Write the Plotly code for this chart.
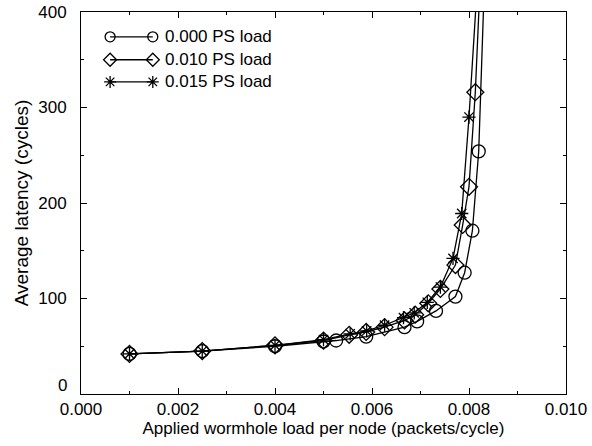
import plotly.graph_objects as go

# Data
load_000_x = [0.001, 0.0025, 0.004, 0.005, 0.00526, 0.00588, 0.00667, 0.00693, 0.00732, 0.00772, 0.00791, 0.00807, 0.0082, 0.00831]
load_000_y = [42, 45, 50, 55, 56, 60, 70, 76, 87, 102, 127, 171, 254, 420]

load_010_x = [0.001, 0.0025, 0.004, 0.005, 0.00553, 0.00588, 0.00626, 0.00667, 0.00689, 0.00716, 0.00741, 0.00772, 0.00787, 0.0080, 0.00813, 0.00822]
load_010_y = [42, 45, 51, 56, 62, 65, 70, 77, 83, 95, 110, 135, 177, 217, 316, 420]

load_015_x = [0.001, 0.0025, 0.004, 0.005, 0.00555, 0.00589, 0.00626, 0.00665, 0.00687, 0.00714, 0.00741, 0.00767, 0.00785, 0.0080, 0.00816]
load_015_y = [42, 45, 51, 57, 63, 66, 72, 80, 85, 96, 112, 142, 189, 290, 420]

series_names = ["0.000 PS load", "0.010 PS load", "0.015 PS load"]
series_x = [load_000_x, load_010_x, load_015_x]
series_y = [load_000_y, load_010_y, load_015_y]

x_tick_vals = [0.000, 0.002, 0.004, 0.006, 0.008, 0.010]
x_tick_text = ["0.000", "0.002", "0.004", "0.006", "0.008", "0.010"]
y_tick_vals = [0, 100, 200, 300, 400]
y_tick_text = ["", "100", "200", "300", "400"]

font = "Liberation Sans, Arial, Helvetica, sans-serif"
symbols = ["circle-open", "diamond-open", "asterisk-open"]
sizes = [13, 13, 11]
legend_sizes = [10, 10, 10]

fig = go.Figure()
for i in range(3):
    fig.add_trace(go.Scatter(
        x=series_x[i], y=series_y[i], mode="lines+markers", name=series_names[i],
        line=dict(color="black", width=1.3),
        marker=dict(symbol=symbols[i], size=sizes[i], color="black", line=dict(width=1.3)),
        showlegend=False))

# Custom legend (marker at both ends of the line sample), drawn on a fixed 0..1 overlay axis
leg_x0, leg_x1, leg_text_x = 0.060, 0.148, 0.170
leg_rows = [0.935, 0.875, 0.817]
for i in range(3):
    fig.add_trace(go.Scatter(
        x=[leg_x0, leg_x1], y=[leg_rows[i], leg_rows[i]], xaxis="x2", yaxis="y2",
        mode="lines+markers", line=dict(color="black", width=1.3),
        marker=dict(symbol=symbols[i], size=legend_sizes[i], color="black", line=dict(width=1.3)),
        showlegend=False, hoverinfo="skip"))
    fig.add_annotation(x=leg_text_x, y=leg_rows[i], xref="x2", yref="y2", text=series_names[i],
                       showarrow=False, xanchor="left", yanchor="middle", font=dict(size=17))

# Y "0" label sits slightly above the axis, as in the reference
fig.add_annotation(x=0, y=0, xref="paper", yref="y", text="0", showarrow=False,
                   xanchor="right", yanchor="middle", xshift=-12, yshift=9, font=dict(size=17))

fig.update_layout(
    width=592, height=446,
    margin=dict(l=81, r=26, t=12, b=52),
    paper_bgcolor="white", plot_bgcolor="white",
    font=dict(family=font, size=17, color="black"),
    showlegend=False,
    xaxis2=dict(overlaying="x", range=[0, 1], visible=False, fixedrange=True),
    yaxis2=dict(overlaying="y", range=[0, 1], visible=False, fixedrange=True),
)
fig.update_layout(xaxis=dict(
    range=[0, 0.010], tickvals=x_tick_vals, ticktext=x_tick_text, automargin=False,
    ticks="inside", ticklen=6, tickcolor="black",
    minor=dict(ticks="inside", ticklen=3, dtick=0.001, tickcolor="black"),
    showline=True, linecolor="black", linewidth=1, mirror="ticks", showgrid=False, zeroline=False,
    tickfont=dict(size=17),
    title=dict(text="Applied wormhole load per node (packets/cycle)", standoff=2, font=dict(size=17)),
))
fig.update_layout(yaxis=dict(
    range=[0, 400], tickvals=y_tick_vals, ticktext=y_tick_text, automargin=False,
    ticks="inside", ticklen=6, tickcolor="black",
    minor=dict(ticks="inside", ticklen=3, dtick=50, tickcolor="black"),
    showline=True, linecolor="black", linewidth=1, mirror="ticks", showgrid=False, zeroline=False,
    tickfont=dict(size=17), ticklabelstandoff=10,
    title=dict(text="Average latency (cycles)", standoff=4, font=dict(size=19)),
))

fig.write_html("out.html", config={"displayModeBar": False},
               post_script="document.body.style.margin='0';")
